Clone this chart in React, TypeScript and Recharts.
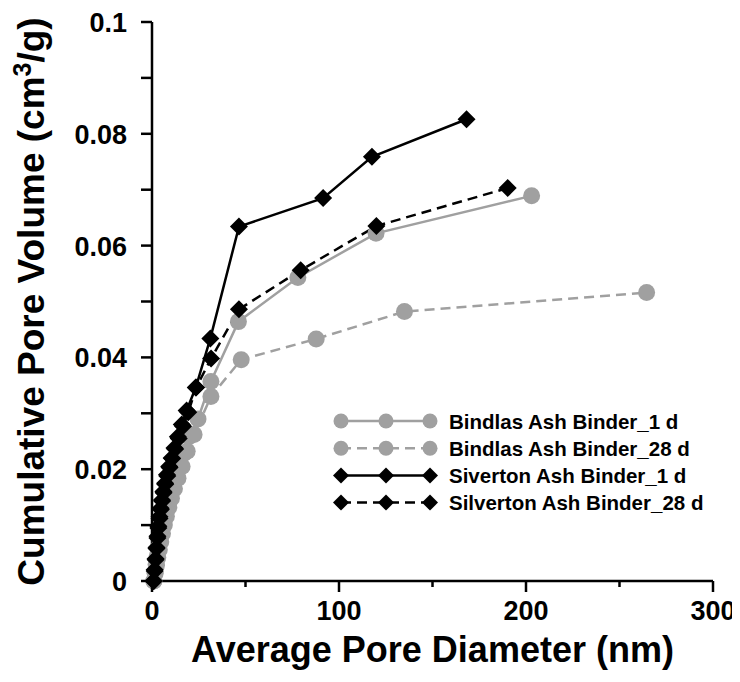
import React from 'react';
import { LineChart, Line, XAxis, YAxis, Legend } from 'recharts';

// [average pore diameter (nm), cumulative pore volume (cm3/g)]
const bindlas1d = [
  [1.0, 0], [1.6, 0.0015], [2.2, 0.003], [2.8, 0.0045], [3.5, 0.006], [4.2, 0.0075],
  [5.0, 0.009], [5.9, 0.0105], [7.0, 0.012], [8.2, 0.0135], [9.5, 0.015], [11.0, 0.0167],
  [12.7, 0.0185], [14.7, 0.0205], [17.0, 0.0228], [19.8, 0.0258], [24.6, 0.029],
  [31.5, 0.0357], [46.2, 0.0464], [78.0, 0.0543], [119.8, 0.0622], [203, 0.0689],
];
const bindlas28d = [
  [1.0, 0], [1.7, 0.0014], [2.4, 0.0028], [3.1, 0.0042], [3.9, 0.0056], [4.7, 0.007],
  [5.6, 0.0085], [6.6, 0.01], [7.7, 0.0116], [9.0, 0.0132], [10.4, 0.0148], [12.0, 0.0165],
  [13.9, 0.0184], [16.1, 0.0205], [18.8, 0.0232], [22.5, 0.0262], [31.5, 0.033],
  [47.7, 0.0396], [87.8, 0.0433], [135, 0.0482], [264.5, 0.0516],
];
const siverton1d = [
  [0.9, 0], [1.4, 0.002], [1.9, 0.004], [2.4, 0.006], [2.9, 0.008], [3.4, 0.0098],
  [4.0, 0.0115], [4.6, 0.013], [5.3, 0.0145], [6.1, 0.016], [7.0, 0.0175], [8.0, 0.019],
  [9.2, 0.0205], [10.5, 0.022], [12.0, 0.0238], [13.8, 0.0258], [15.9, 0.028],
  [18.5, 0.0305], [23.4, 0.0346], [31.2, 0.0434], [46.5, 0.0634], [91.5, 0.0685],
  [117.6, 0.0759], [168.2, 0.0826],
];
const silverton28d = [
  [0.9, 0], [1.4, 0.0018], [1.9, 0.0038], [2.4, 0.0058], [2.9, 0.0077], [3.4, 0.0095],
  [4.0, 0.0112], [4.7, 0.0128], [5.4, 0.0143], [6.2, 0.0158], [7.1, 0.0173], [8.2, 0.0188],
  [9.4, 0.0203], [10.8, 0.0219], [12.4, 0.0236], [14.3, 0.0255], [16.6, 0.0277],
  [19.4, 0.0302], [23.6, 0.0346], [31.6, 0.0398], [46.5, 0.0486], [79.5, 0.0556],
  [120.0, 0.0635], [190.2, 0.0703],
];

const xTicks = [0, 50, 100, 150, 200, 250, 300];
const yTicks = [0, 0.01, 0.02, 0.03, 0.04, 0.05, 0.06, 0.07, 0.08, 0.09, 0.1];
const xLabels = ['0', '', '100', '', '200', '', '300'];
const yLabels = ['0', '', '0.02', '', '0.04', '', '0.06', '', '0.08', '', '0.1'];

const GRAY = '#a0a0a0';
const FONT = '"Liberation Sans", Arial, sans-serif';

const toRows = (pts: number[][]) => pts.map(([d, v]) => ({ d, v }));

const series = [
  { name: 'Bindlas Ash Binder_1 d', data: toRows(bindlas1d), color: GRAY, dash: undefined, shape: 'circle' },
  { name: 'Bindlas Ash Binder_28 d', data: toRows(bindlas28d), color: GRAY, dash: '10 6', shape: 'circle' },
  { name: 'Siverton Ash Binder_1 d', data: toRows(siverton1d), color: '#000', dash: undefined, shape: 'diamond' },
  { name: 'Silverton Ash Binder_28 d', data: toRows(silverton28d), color: '#000', dash: '10 6', shape: 'diamond' },
];

const marker = (shape: string, color: string, cx: number, cy: number, s: number, key?: any) =>
  shape === 'circle' ? (
    <circle key={key} cx={cx} cy={cy} r={s} fill={color} />
  ) : (
    <polygon
      key={key}
      points={`${cx},${cy - s} ${cx + s},${cy} ${cx},${cy + s} ${cx - s},${cy}`}
      fill={color}
    />
  );

const XTick = (props: any) => {
  const { x, y, index } = props;
  const label = xLabels[index];
  return (
    <g>
      <line x1={x} x2={x} y1={y} y2={y + (label ? 11 : 6)} stroke="#000" strokeWidth={2.5} />
      {label && (
        <text x={x} y={y + 39} textAnchor="middle" fontSize={27} fontWeight="bold" fontFamily={FONT} fill="#000">
          {label}
        </text>
      )}
    </g>
  );
};

const YTick = (props: any) => {
  const { x, y, index } = props;
  const label = yLabels[index];
  return (
    <g>
      <line x1={x - 11} x2={x} y1={y} y2={y} stroke="#000" strokeWidth={2.5} />
      {label && (
        <text x={x - 25} y={y + 10} textAnchor="end" fontSize={27} fontWeight="bold" fontFamily={FONT} fill="#000">
          {label}
        </text>
      )}
    </g>
  );
};

const YTitle = (props: any) => {
  const { viewBox } = props;
  const cx = viewBox.x + 44;
  const cy = viewBox.y + viewBox.height / 2;
  return (
    <text
      x={cx}
      y={cy}
      transform={`rotate(-90 ${cx} ${cy})`}
      textAnchor="middle"
      fontSize={37}
      fontWeight="bold"
      fontFamily={FONT}
      fill="#000"
    >
      Cumulative Pore Volume (cm
      <tspan dy={-13} fontSize={25}>3</tspan>
      <tspan dy={13}>/g)</tspan>
    </text>
  );
};

const XTitle = (props: any) => {
  const { viewBox } = props;
  return (
    <text
      x={viewBox.x + viewBox.width / 2}
      y={viewBox.y + 81}
      textAnchor="middle"
      fontSize={36}
      fontWeight="bold"
      fontFamily={FONT}
      fill="#000"
    >
      Average Pore Diameter (nm)
    </text>
  );
};

const renderLegend = () => (
  <svg width={400} height={120}>
    {series.map((s, i) => {
      const y = 14 + i * 27.2;
      return (
        <g key={s.name}>
          <line x1={11} x2={100} y1={y} y2={y} stroke={s.color} strokeWidth={2.5} strokeDasharray={s.dash} />
          {[11, 56, 100].map((cx, j) => marker(s.shape, s.color, cx, y, s.shape === 'circle' ? 7.5 : 8, j))}
          <text x={119} y={y + 7.5} fontSize={20.5} fontWeight="bold" fontFamily={FONT} fill="#000">
            {s.name}
          </text>
        </g>
      );
    })}
  </svg>
);

const App = () => {
  return (
    <div style={{ width: 740, height: 674, margin: '-8px 0 0 -8px' }}>
      <LineChart width={740} height={674} margin={{ top: 22, right: 27, left: 0, bottom: 0 }}>
        <XAxis
          type="number"
          dataKey="d"
          domain={[0, 300]}
          ticks={xTicks}
          interval={0}
          tickSize={0}
          tickMargin={0}
          tickLine={false}
          tick={<XTick />}
          axisLine={{ stroke: '#000', strokeWidth: 2.5 }}
          height={93}
          label={<XTitle />}
        />
        <YAxis
          type="number"
          dataKey="v"
          domain={[0, 0.1]}
          ticks={yTicks}
          interval={0}
          tickSize={0}
          tickMargin={0}
          tickLine={false}
          tick={<YTick />}
          axisLine={{ stroke: '#000', strokeWidth: 2.5 }}
          width={152}
          label={<YTitle />}
        />
        <Legend
          layout="vertical"
          align="center"
          verticalAlign="middle"
          content={renderLegend}
          wrapperStyle={{ left: 330, top: 407, width: 400, height: 120 }}
        />
        {series.map((s) => (
          <Line
            key={s.name}
            name={s.name}
            data={s.data}
            dataKey="v"
            type="linear"
            stroke={s.color}
            strokeWidth={2.5}
            strokeDasharray={s.dash}
            isAnimationActive={false}
            dot={(p: any) => marker(s.shape, s.color, p.cx, p.cy, s.shape === 'circle' ? 8.5 : 9, p.index)}
            activeDot={false}
          />
        ))}
      </LineChart>
    </div>
  );
};

export default App;
